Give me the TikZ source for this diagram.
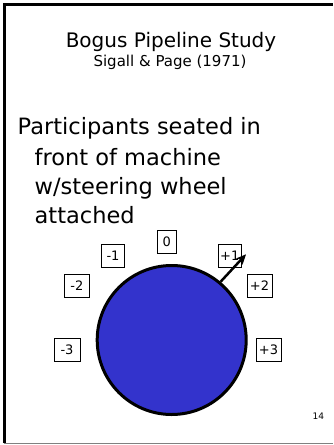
\documentclass[tikz,border=0pt]{standalone}
\usepackage{fontspec}
\setmainfont{DejaVu Sans}
\usetikzlibrary{arrows.meta}
\definecolor{blu}{HTML}{3333CC}
\tikzset{
  tacca/.style={draw=black, line width=0.8pt, font=\fontsize{13}{15}\selectfont,
    minimum height=23pt, inner sep=1pt},
  volante/.style={circle, draw=black, line width=3pt, fill=blu,
    minimum size=149pt, inner sep=0pt},
  riga/.style={anchor=base west, inner sep=0pt, font=\fontsize{22.5}{27}\selectfont},
}

\begin{document}
\begin{tikzpicture}[x=1pt,y=-1pt]
  \useasboundingbox (0,0) rectangle (333,445);
  % Cornice
  \draw[line width=3pt] (4.2,443) -- (4.2,4.2) -- (333,4.2);
  \draw[gray, line width=1pt] (4.2,443) -- (333,443);
  % Titolo
  \node[anchor=base, font=\fontsize{20}{24}\selectfont] (titolo) at (171,47.7) {Bogus Pipeline Study};
  \node[anchor=base, font=\fontsize{15}{18}\selectfont] (autori) at (170,66.7) {Sigall \& Page (1971)};
  % Testo
  \node[riga] (r1) at (17.5,134.5) {Participants seated in};
  \node[riga] (r2) at (34.5,165) {front of machine};
  \node[riga] (r3) at (34.5,194.7) {w/steering wheel};
  \node[riga] (r4) at (34.5,223.3) {attached};
  % Volante
  \node[volante] (wheel) at (171.7,340) {};
  % Tacche
  \foreach \nm/\t/\x/\y/\w in {m3/-3/67/349.7/26, m2/-2/76.8/285.7/25, m1/-1/113/255.5/22.5,
      z/0/166.7/241.5/19, p1/+1/229.7/255.5/23, p2/+2/259.5/285.7/25, p3/+3/268.5/349.7/25} {
    \node[tacca, minimum width=\w pt] (\nm) at (\x,\y) {\t};
  }
  % Freccia
  \coordinate (punta) at (246,254.3);
  \draw[line width=2.5pt, -{Stealth[length=10pt, width=9pt]}] (wheel.50) -- (punta);
  % Numero pagina
  \node[anchor=base, font=\fontsize{9}{11}\selectfont] (pagina) at (318.3,419) {14};
\end{tikzpicture}
\end{document}
